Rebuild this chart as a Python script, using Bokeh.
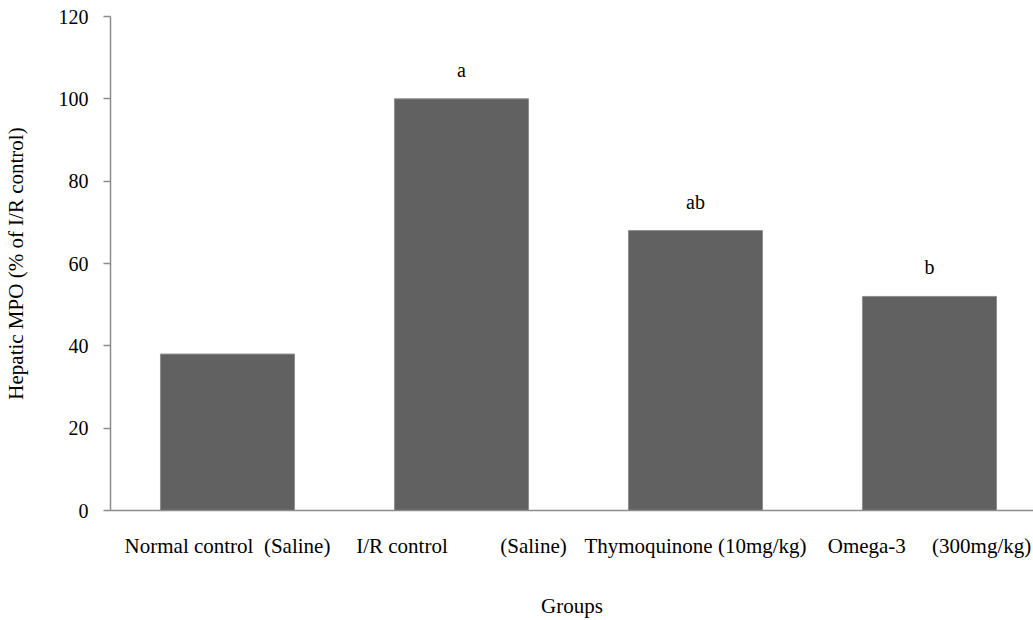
from bokeh.plotting import figure
from bokeh.models import Range1d, FixedTicker, ColumnDataSource
from bokeh.core.properties import value
from bokeh.embed import file_html
from bokeh.resources import INLINE

NB = "\u00a0"
categories = ["Normal control" + NB * 2 + "(Saline)",
              "I/R control" + NB * 10 + "(Saline)",
              "Thymoquinone (10mg/kg)",
              "Omega-3" + NB * 5 + "(300mg/kg)"]
values = [38, 100, 68, 52]
letters = ["", "a", "ab", "b"]
y_ticks = [0, 20, 40, 60, 80, 100, 120]

FONT = "Liberation Serif"
xs = list(range(len(categories)))
src = ColumnDataSource(dict(x=xs, top=values, lab=letters))

p = figure(width=1033, height=620, output_backend="svg", toolbar_location=None,
           x_range=Range1d(-0.5, -0.5 + (1033 - 110) / 234.0), y_range=Range1d(0, 120),
           min_border_left=110, min_border_right=0, min_border_top=16,
           min_border_bottom=110)
p.outline_line_color = None
p.xgrid.visible = False
p.ygrid.visible = False
p.background_fill_color = "white"
p.border_fill_color = "white"

p.vbar(x="x", top="top", width=0.573, bottom=0, source=src,
       fill_color="#616161", line_color="#8f8f8f", line_width=1)

p.text(x="x", y="top", text="lab", source=src, y_offset=-29,
       text_align="center", text_baseline="alphabetic",
       text_font=value(FONT), text_font_size="20px", text_color="#000000")

# y axis
ya = p.yaxis[0]
ya.ticker = FixedTicker(ticks=y_ticks)
ya.axis_line_color = "#8c8c8c"
ya.axis_line_width = 1.5
ya.major_tick_line_color = "#8c8c8c"
ya.major_tick_line_width = 1.5
ya.major_tick_out = 7
ya.major_tick_in = 0
ya.minor_tick_line_color = None
ya.major_label_text_font = FONT
ya.major_label_text_font_size = "20px"
ya.major_label_text_color = "#000000"
ya.major_label_standoff = 15
ya.axis_label = "Hepatic MPO (% of I/R control)"
ya.axis_label_text_font = FONT
ya.axis_label_text_font_size = "21px"
ya.axis_label_text_font_style = "normal"
ya.axis_label_text_color = "#000000"
ya.axis_label_standoff = 28

# x axis
xa = p.xaxis[0]
xa.ticker = FixedTicker(ticks=xs)
xa.major_label_overrides = {i: c for i, c in zip(xs, categories)}
xa.axis_line_color = "#8c8c8c"
xa.axis_line_width = 1.5
xa.major_tick_line_color = None
xa.minor_tick_line_color = None
xa.major_label_text_font = FONT
xa.major_label_text_font_size = "21px"
xa.major_label_text_color = "#000000"
xa.major_label_standoff = 17
xa.axis_label = "Groups"
xa.axis_label_text_font = FONT
xa.axis_label_text_font_size = "21px"
xa.axis_label_text_font_style = "normal"
xa.axis_label_text_color = "#000000"
xa.axis_label_standoff = 33

open("out.html", "w").write(file_html(p, INLINE))
